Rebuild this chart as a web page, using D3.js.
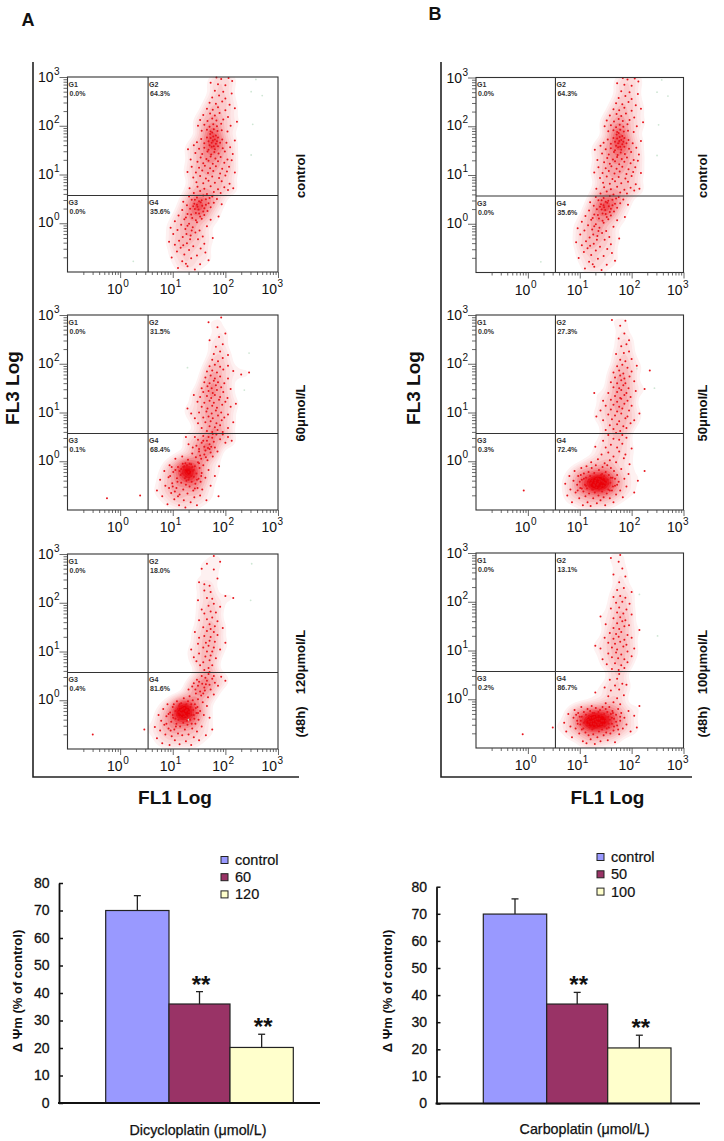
<!DOCTYPE html>
<html>
<head>
<meta charset="utf-8">
<script src="https://cdn.jsdelivr.net/npm/d3@7"></script>
<style>
html,body{margin:0;padding:0;background:#fff}
svg{display:block}
text{font-family:"Liberation Sans",Arial,sans-serif;fill:#111}
</style>
</head>
<body>
<svg id="c" width="724" height="1141"></svg>
<script>
// Flow cytometry dots: flat x,y pairs in log10 units x100
const controlDots=[110,-92,128,-88,142,-95,118,-78,135,-72,152,-84,98,-70,122,-64,146,-66,108,-58,131,-55,162,-60,115,-50,139,-47,125,-83,153,-52,104,-44,168,-76,93,-38,112,-36,127,-41,148,-33,160,-42,119,-28,134,-25,101,-22,143,-19,157,-27,176,-30,109,-14,124,-12,138,-8,151,-15,96,-9,116,-3,131,-1,146,2,165,-6,104,4,122,8,137,11,155,9,172,7,111,16,128,19,144,21,160,17,187,14,118,27,133,30,149,28,166,25,127,37,141,40,156,36,172,33,120,44,136,48,150,45,163,49,178,42,193,39,131,55,146,53,158,57,170,52,184,50,125,12,135,18,142,29,150,20,139,35,146,38,153,43,160,31,128,-5,136,-15,126,-22,133,-33,120,-45,144,6,152,14,158,24,142,48,168,41,175,55,155,47,147,34,163,38,
140,62,152,66,165,60,178,64,191,62,205,68,132,72,147,75,160,71,172,76,186,70,198,74,215,72,145,84,158,82,168,87,180,83,193,86,208,81,139,94,152,97,163,92,175,96,188,93,200,98,128,105,144,104,156,108,167,103,177,107,190,102,203,106,218,104,136,116,150,114,161,118,171,113,182,117,194,112,207,116,147,126,158,123,168,128,176,122,186,127,198,124,212,129,134,131,153,135,164,132,172,137,181,133,191,136,204,131,143,144,156,142,166,147,173,141,179,146,187,143,199,147,214,142,150,153,160,155,168,151,174,157,180,152,186,158,195,154,209,156,129,152,
170,160,174,165,178,158,182,163,176,170,172,175,180,172,168,168,184,168,177,178,171,183,182,180,175,186,186,176,190,165,165,176,160,164,194,172,202,165,218,170,146,166,154,173,140,160,
155,190,165,192,172,188,178,193,185,189,193,191,204,188,148,200,160,202,170,198,177,203,184,199,192,204,210,200,152,212,166,210,175,215,183,211,196,213,222,208,158,222,171,225,180,221,189,226,205,218,165,235,176,233,186,238,200,232,218,236,170,247,182,245,194,250,208,243,175,258,188,262,200,256,180,272,196,270,212,266,186,285,200,283,172,288,192,296,206,298,213,292,183,299];
const controlFaint=[258,295,270,262,249,270,252,203,249,140,25,-78];

const dose60Dots=[70,-60,76,-38,80,-72,84,-20,86,-50,90,-88,92,-33,94,-8,97,-65,99,-45,101,-22,103,-78,105,5,107,-55,108,-35,110,-12,112,-90,113,-68,115,-28,116,-44,118,10,119,-5,120,-58,121,-80,122,-18,123,-35,124,-95,125,-48,126,-25,127,-8,128,-66,129,3,130,-38,131,-15,132,-52,133,-28,134,-84,135,-6,136,-42,137,16,138,-20,139,-60,140,-32,141,-74,142,-10,143,-46,144,8,145,-25,146,-90,147,-55,148,-2,149,-36,150,20,151,-14,152,-70,153,-42,154,5,155,-24,156,-58,158,-8,160,14,162,-34,164,-80,166,2,168,-18,170,25,172,-50,176,10,180,-30,187,-72,188,-10,113,-20,118,-25,122,-10,125,-32,127,-15,130,-22,132,-5,134,-18,120,-12,128,-28,124,-4,135,-30,137,-12,126,-40,116,-16,131,-34,140,-18,123,-22,95,-30,100,-52,105,-18,109,-42,104,-62,98,-12,110,-72,93,-55,146,-38,150,-4,154,-30,142,-56,
138,28,145,32,150,25,155,38,160,30,165,42,170,35,175,48,148,44,158,52,168,50,178,40,183,55,190,45,200,38,162,22,172,18,180,28,152,12,163,8,173,30,185,20,158,42,167,27,176,56,195,55,205,50,212,42,130,35,125,50,142,50,
165,62,175,60,185,64,195,60,155,68,170,72,180,70,190,74,205,68,148,78,162,80,172,82,183,78,193,84,215,80,142,88,158,90,168,92,176,88,186,94,198,90,135,98,150,100,164,102,174,98,182,104,192,100,205,96,128,108,155,112,166,108,175,114,184,110,194,116,210,112,147,122,160,120,170,124,178,120,188,126,200,122,220,118,152,132,165,134,173,130,180,136,190,132,204,130,158,142,168,144,176,140,184,146,196,142,140,136,155,150,166,154,174,150,182,156,192,152,210,148,160,162,170,160,178,165,186,162,198,160,162,172,172,176,180,170,190,174,205,170,230,178,165,184,175,186,184,182,196,188,215,185,245,182,170,195,180,198,190,194,205,196,175,208,186,205,195,212,178,220,190,225,205,218,182,235,195,240,170,248,188,255,200,262,185,275,168,285,192,295,-25,-76,38,-70];
const dose60Faint=[245,222,236,146,128,192];

const dose120Dots=[66,-55,70,-78,73,-30,76,-62,78,-42,80,-88,82,-18,84,-50,86,-70,88,-33,90,-8,92,-58,94,-92,95,-25,97,-44,98,-74,100,-14,101,-36,103,-60,104,-82,105,-22,107,-48,108,-2,109,-30,110,-68,111,-40,112,-12,113,-90,114,-54,115,-26,116,-6,117,-36,118,-72,119,-18,120,-46,121,4,122,-28,123,-60,124,-10,125,-84,126,-34,127,-20,128,-50,129,-2,130,-70,131,-24,132,8,133,-40,134,-14,135,-92,136,-30,137,-58,138,0,139,-20,140,-76,141,-38,142,-8,143,-48,144,14,145,-26,146,-64,147,-14,148,2,149,-40,150,-82,152,-22,154,10,155,-54,157,-4,159,-30,161,20,163,-72,165,-12,167,6,170,-36,175,-60,178,12,100,-30,105,-38,110,-18,112,-24,114,-34,116,-20,118,-12,120,-26,122,-16,124,-32,126,-8,113,-8,119,-38,125,-22,128,-14,121,-34,117,-28,130,-30,115,-14,127,-42,88,-48,92,-28,96,-62,102,-8,106,-54,135,-8,140,-30,144,-16,148,-26,136,-48,
130,22,137,28,143,22,148,30,152,18,156,34,160,26,165,40,170,32,146,42,155,50,162,46,168,54,175,44,180,36,186,30,172,22,158,14,150,38,163,33,178,50,192,48,200,40,140,35,170,58,
160,62,168,66,152,72,175,72,145,80,158,78,170,82,140,88,162,90,172,92,182,86,150,96,165,100,175,100,135,104,158,108,168,112,178,108,190,104,148,116,163,118,170,122,180,120,150,128,160,132,172,130,185,134,200,118,142,140,165,142,172,146,178,140,158,150,170,156,180,152,195,148,150,164,165,166,175,170,185,162,160,178,172,182,155,186,182,180,168,194,178,198,148,205,190,192,165,210,175,208,160,225,172,222,200,214,215,210,160,238,170,235,150,242,185,250,178,268,165,280,178,296,190,284,155,270,-52,-70,46,-60];
const dose120Faint=[250,280,248,205,130,-40];

const dose50Dots=[72,-46,76,-70,80,-30,82,-58,85,-84,88,-40,90,-20,92,-64,95,-48,97,-30,99,-76,101,-55,103,-14,104,-38,106,-90,107,-62,108,-25,110,-48,111,-72,112,-34,113,-10,114,-56,115,-84,116,-42,117,-22,118,-66,119,-50,120,-30,121,-92,122,-44,123,-14,124,-58,125,-36,126,-76,127,-48,128,-24,129,-64,130,-40,131,-8,132,-54,133,-86,134,-32,135,-46,136,-70,137,-18,138,-56,139,-38,140,-80,141,-28,142,-50,143,-62,144,-12,145,-42,146,-74,147,-30,148,-54,149,-90,150,-22,151,-46,152,-66,153,-8,154,-38,155,-58,156,-28,158,-76,159,-44,160,-14,162,-60,163,-34,165,-84,166,-20,168,-50,170,-68,172,-28,175,-42,178,-60,180,-16,183,-74,186,-36,190,-52,194,-26,205,-64,212,-40,225,-20,130,-44,134,-48,138,-42,142,-40,146,-50,128,-50,136,-36,140,-54,132,-36,144,-34,124,-40,148,-44,120,-46,150,-38,126,-58,137,-58,143,-26,118,-38,100,-42,104,-56,108,-36,96,-60,112,-50,155,-46,160,-34,164,-52,158,-60,168,-36,102,-28,172,-48,
122,-2,135,4,148,-4,158,2,170,-2,185,6,196,-6,142,14,155,18,165,10,176,20,188,14,150,28,160,34,172,28,182,36,200,26,130,30,145,42,165,46,176,44,190,48,155,54,170,58,182,54,
150,64,165,66,178,62,190,68,158,74,172,76,184,72,198,78,145,84,162,86,176,82,188,88,205,84,132,92,155,96,168,94,180,98,192,92,140,104,160,106,172,102,182,108,195,104,215,98,150,114,165,116,176,112,186,118,200,114,145,124,160,126,172,122,180,128,192,124,168,134,178,130,186,136,198,132,155,140,172,142,180,146,190,140,208,144,128,140,165,152,176,150,184,156,194,150,225,148,160,162,172,160,180,166,188,160,205,164,168,172,178,176,186,170,196,174,165,182,176,186,184,180,200,184,235,186,172,195,182,198,192,192,210,196,178,208,188,205,200,210,170,220,185,222,195,225,180,236,190,240,175,252,186,262,195,248,178,278,188,288,162,290,-8,-60];
const dose50Faint=[210,190,244,150,120,-10];

const dose100Dots=[70,-48,74,-66,78,-30,82,-56,85,-78,88,-38,90,-22,92,-60,95,-44,97,-28,99,-70,101,-52,103,-16,104,-36,106,-86,107,-60,108,-26,110,-46,111,-68,112,-32,113,-90,114,-54,115,-20,116,-42,117,-74,118,-34,119,-58,120,-24,121,-82,122,-46,123,-14,124,-62,125,-38,126,-72,127,-50,128,-28,129,-92,130,-42,131,-18,132,-56,133,-34,134,-78,135,-48,136,-26,137,-66,138,-40,139,-22,140,-86,141,-52,142,-32,143,-62,144,-16,145,-44,146,-74,147,-30,148,-56,149,-38,150,-20,151,-68,152,-46,153,-26,154,-84,155,-36,156,-58,157,-16,158,-42,159,-70,160,-30,162,-50,163,-24,165,-64,166,-40,168,-88,170,-32,172,-54,174,-20,176,-72,178,-44,180,-28,183,-60,186,-38,190,-52,194,-24,198,-66,205,-34,210,-58,215,-14,122,-50,126,-44,130,-52,134,-40,118,-46,128,-36,120,-38,132,-46,124,-56,136,-52,116,-52,125,-28,138,-48,142,-44,112,-44,127,-60,140,-34,146,-52,96,-50,100,-36,104,-62,93,-32,108,-48,102,-44,150,-44,156,-50,162,-38,166,-56,170,-46,174,-62,152,-60,164,-28,178,-36,
150,-8,165,-6,178,-10,155,6,172,2,185,8,160,18,176,20,148,24,168,28,182,32,158,40,172,42,130,14,190,30,176,52,
162,62,175,60,186,64,152,72,168,74,180,70,192,76,144,82,162,86,174,84,186,82,200,88,155,94,170,96,180,92,192,98,140,104,162,106,172,102,184,108,205,104,130,110,155,116,168,114,178,118,190,112,148,126,165,124,175,128,186,122,200,126,158,136,170,134,180,138,192,132,165,146,176,144,186,150,215,142,150,154,172,156,182,160,195,152,165,166,178,168,188,162,140,170,172,178,184,176,200,174,160,186,176,188,190,184,170,198,182,200,196,196,165,210,178,212,188,208,172,224,185,228,200,220,176,240,188,252,165,256,182,268,175,282,160,290,178,296,-10,-72,48,-58];
const dose100Faint=[215,215,250,130];

const minorTicks=[0.2,0.3,0.4,0.5,0.6,0.7,0.8,0.9,2,3,4,5,6,7,8,9,20,30,40,50,60,70,80,90,200,300,400,500,600,700,800,900];
const majorTicks=[1,10,100,1000];
const exponents=["0","1","2","3"];
const gateNames=["G1","G2","G3","G4"];
const gatesControl=["0.0%","64.3%","0.0%","35.6%"];
const gates60=["0.0%","31.5%","0.1%","68.4%"];
const gates120=["0.0%","18.0%","0.4%","81.6%"];
const gates50=["0.0%","27.3%","0.3%","72.4%"];
const gates100=["0.0%","13.1%","0.2%","86.7%"];
const gateX=3.4, gateY=3.7;

const barColors=["#9999FF","#993366","#FFFFCC"];
const barsATicks=[0,10,20,30,40,50,60,70,80];
const barsALabels=["control","60","120"];
const barsAValues=[70,36,20.2];
const barsAUpper=[75.4,40.5,25];
const barsBLabels=["control","50","100"];
const barsBValues=[69.9,36.7,20.5];
const barsBUpper=[75.5,41,25.2];

const svg=d3.select("#c");
const chunk=a=>d3.range(0,a.length,2).map(i=>[a[i],a[i+1]]);
const densLevels=[0.007,0.011,0.015,0.02,0.026,0.033,0.041,0.05,0.06,0.07,0.08,0.09];
const densColor=d3.scaleLinear().domain([0.007,0.03,0.08]).range(["#fef1f1","#f8aeb0","#ec1c24"]);
let clipN=0;

function flow(o){
  const g=svg.append("g");
  const x=d3.scaleLog().domain([0.1,1000]).range([o.x0,o.x1]);
  const y=d3.scaleLog().domain([0.1,1000]).range([o.y1,o.y0]);
  const px=d=>x(Math.pow(10,d[0]/100)), py=d=>y(Math.pow(10,d[1]/100));
  const dot=(arr,r,fill)=>g.append("g").selectAll("circle").data(chunk(arr)).join("circle")
    .attr("cx",px).attr("cy",py).attr("r",r).attr("fill",fill);
  // density of the same dots: in the picture they merge into a solid haze
  const id="clip"+(clipN++);
  svg.append("clipPath").attr("id",id).append("rect").attr("x",o.x0).attr("y",o.y0).attr("width",o.x1-o.x0).attr("height",o.y1-o.y0);
  const dens=d3.contourDensity().x(px).y(py).size([724,800]).cellSize(2).bandwidth(5).thresholds(densLevels)(chunk(o.dots));
  g.append("g").attr("clip-path",`url(#${id})`).selectAll("path").data(dens).join("path")
    .attr("d",d3.geoPath()).attr("fill",d=>densColor(d.value));
  dot(o.faint,0.9,"#cfe6d4");
  dot(o.dots,1,"#e8141c");
  // frame and gates
  g.append("rect").attr("x",o.x0).attr("y",o.y0).attr("width",o.x1-o.x0).attr("height",o.y1-o.y0)
    .attr("fill","none").attr("stroke","#333").attr("stroke-width",1.1);
  g.append("line").attr("x1",x(gateX)).attr("x2",x(gateX)).attr("y1",o.y0).attr("y2",o.y1).attr("stroke","#333").attr("stroke-width",1.1);
  g.append("line").attr("x1",o.x0).attr("x2",o.x1).attr("y1",y(gateY)).attr("y2",y(gateY)).attr("stroke","#333").attr("stroke-width",1.1);
  // ticks
  const ax=(gen,tf,vals,size)=>{
    const a=g.append("g").attr("transform",tf).call(gen.tickValues(vals).tickSize(size).tickFormat(""));
    a.select(".domain").remove();
    a.selectAll("line").attr("stroke","#444").attr("stroke-width",0.8);
  };
  ax(d3.axisBottom(x),`translate(0,${o.y1})`,minorTicks,3);
  ax(d3.axisBottom(x),`translate(0,${o.y1})`,majorTicks,6);
  ax(d3.axisLeft(y),`translate(${o.x0},0)`,minorTicks,4);
  ax(d3.axisLeft(y),`translate(${o.x0},0)`,majorTicks,8);
  // decade labels
  const lab=(px,py,e,anchorDx)=>{
    const t=g.append("g").attr("transform",`translate(${px},${py})`);
    t.append("text").attr("x",anchorDx).attr("text-anchor","end").attr("font-size",14).text("10");
    t.append("text").attr("x",anchorDx+0.5).attr("y",-7).attr("font-size",10).text(e);
  };
  majorTicks.forEach((v,i)=>lab(x(v),o.y1+22,exponents[i],i===3?-1:2.5));
  majorTicks.forEach((v,i)=>lab(o.x0-14,y(v)+(i===3?5:4),exponents[i],0));
  // gate labels
  const gx=[o.x0,x(gateX),o.x0,x(gateX)];
  const gy=[o.y0,o.y0,y(gateY),y(gateY)];
  gateNames.forEach((n,i)=>{
    g.append("text").attr("x",gx[i]+1).attr("y",gy[i]+9.5).attr("font-size",7).attr("font-weight","bold").style("fill","#333").text(n);
    g.append("text").attr("x",gx[i]+2).attr("y",gy[i]+18.5).attr("font-size",7).attr("font-weight","bold").style("fill","#333").text(o.gates[i]);
  });
}

const panelAX={x0:67.5,x1:278};
const panelBX={x0:476,x1:683.5};
flow({...panelAX,y0:77,y1:272,dots:controlDots,faint:controlFaint,gates:gatesControl});
flow({...panelAX,y0:315,y1:510,dots:dose60Dots,faint:dose60Faint,gates:gates60});
flow({...panelAX,y0:554,y1:749,dots:dose120Dots,faint:dose120Faint,gates:gates120});
flow({...panelBX,y0:77.5,y1:272.5,dots:controlDots,faint:controlFaint,gates:gatesControl});
flow({...panelBX,y0:315,y1:510,dots:dose50Dots,faint:dose50Faint,gates:gates50});
flow({...panelBX,y0:553,y1:748,dots:dose100Dots,faint:dose100Faint,gates:gates100});

// L-shaped frames
const lshape=(xa,xb)=>svg.append("path").attr("d",`M${xa},62V777H${xb}`).attr("fill","none").attr("stroke","#222").attr("stroke-width",1.6);
lshape(33,299); lshape(441,692);

const text=(s,x,y,size,opts={})=>{
  const t=svg.append("text").attr("font-size",size).attr("font-weight",opts.w||"bold")
    .attr("text-anchor",opts.a||"middle").text(s);
  if(opts.rot) t.attr("transform",`translate(${x},${y}) rotate(-90)`).attr("dominant-baseline","central");
  else t.attr("x",x).attr("y",y);
  return t;
};
text("A",28,26,18); text("B",435,20,18);
text("FL3 Log",12,388,19,{rot:1}); text("FL3 Log",413,388,19,{rot:1});
text("FL1 Log",175,804,19); text("FL1 Log",607.5,804,19);
text("control",300,176,13,{rot:1}); text("control",702,176,13,{rot:1});
text("60μmol/L",300,413,13,{rot:1}); text("50μmol/L",702,413,13,{rot:1});
text("120μmol/L",300,662,13,{rot:1}); text("100μmol/L",702,662,13,{rot:1});
text("(48h)",300,722,13,{rot:1}); text("(48h)",702,722,13,{rot:1});

function bars(o){
  const g=svg.append("g");
  const y=d3.scaleLinear().domain([0,80]).range([o.y0,o.y80]);
  const x=d3.scaleOrdinal().domain(o.labels).range(o.edges.slice(0,3));
  const w=i=>o.edges[i+1]-o.edges[i];
  const a=g.append("g").attr("transform",`translate(${o.ax},0)`).call(d3.axisLeft(y).tickValues(barsATicks).tickSize(5).tickSizeOuter(0));
  a.select(".domain").attr("stroke","#111").attr("stroke-width",1.8);
  a.selectAll("line").attr("stroke","#111").attr("stroke-width",1.5).attr("x2",4);
  a.selectAll("text").attr("x",-9.5).attr("font-size",14).attr("font-family",'"Liberation Sans"').style("fill","#111").style("stroke","#111").style("stroke-width",0.3);
  // whiskers
  o.values.forEach((v,i)=>{
    const cx=x(o.labels[i])+w(i)/2;
    g.append("line").attr("x1",cx).attr("x2",cx).attr("y1",y(v)).attr("y2",y(o.upper[i])).attr("stroke","#222").attr("stroke-width",1.3);
    g.append("line").attr("x1",cx-3.5).attr("x2",cx+3.5).attr("y1",y(o.upper[i])).attr("y2",y(o.upper[i])).attr("stroke","#222").attr("stroke-width",1.3);
  });
  g.selectAll("rect.bar").data(o.values).join("rect").attr("class","bar")
    .attr("x",(d,i)=>x(o.labels[i])).attr("width",(d,i)=>w(i))
    .attr("y",d=>y(d)).attr("height",d=>y(0)-y(d))
    .attr("fill",(d,i)=>barColors[i]).attr("stroke","#222").attr("stroke-width",1.2);
  g.append("line").attr("x1",o.ax-1).attr("x2",o.axEnd).attr("y1",o.y0).attr("y2",o.y0).attr("stroke","#111").attr("stroke-width",2);
  // stars
  [1,2].forEach(i=>{
    g.append("text").attr("x",x(o.labels[i])+w(i)/2+1.5).attr("y",y(o.upper[i])-1).attr("text-anchor","middle")
      .attr("font-size",24).attr("font-weight","bold").attr("dy",2).text("**");
  });
  // legend
  o.labels.forEach((l,i)=>{
    g.append("rect").attr("x",o.lx).attr("y",o.ly+i*o.ldy-3.5).attr("width",7).attr("height",7)
      .attr("fill",barColors[i]).attr("stroke","#222").attr("stroke-width",1);
    g.append("text").attr("x",o.lx+14).attr("y",o.ly+i*o.ldy+5).attr("font-size",14.5).style("stroke","#111").style("stroke-width",0.2).text(l);
  });
  svg.append("text").attr("transform",`translate(${o.ylx},${o.yly}) rotate(-90)`).attr("text-anchor","middle")
    .attr("font-size",13).attr("font-weight","bold").text("Δ Ψm (% of control)");
  svg.append("text").attr("x",o.xlx).attr("y",o.xly).attr("text-anchor","middle").attr("font-size",14.3).style("stroke","#111").style("stroke-width",0.25).text(o.xlabel);
}
bars({y0:1103,y80:883,ax:59,axEnd:320,edges:[105.7,169,230,293.3],labels:barsALabels,values:barsAValues,upper:barsAUpper,
  lx:221,ly:860,ldy:17.2,ylx:22,yly:991,xlx:198,xly:1135,xlabel:"Dicycloplatin (μmol/L)"});
bars({y0:1103.5,y80:886.7,ax:436.5,axEnd:700,edges:[483.3,546.7,607.7,671],labels:barsBLabels,values:barsBValues,upper:barsBUpper,
  lx:597,ly:857,ldy:17.3,ylx:392,yly:991,xlx:584.5,xly:1134,xlabel:"Carboplatin (μmol/L)"});
</script>
</body>
</html>
